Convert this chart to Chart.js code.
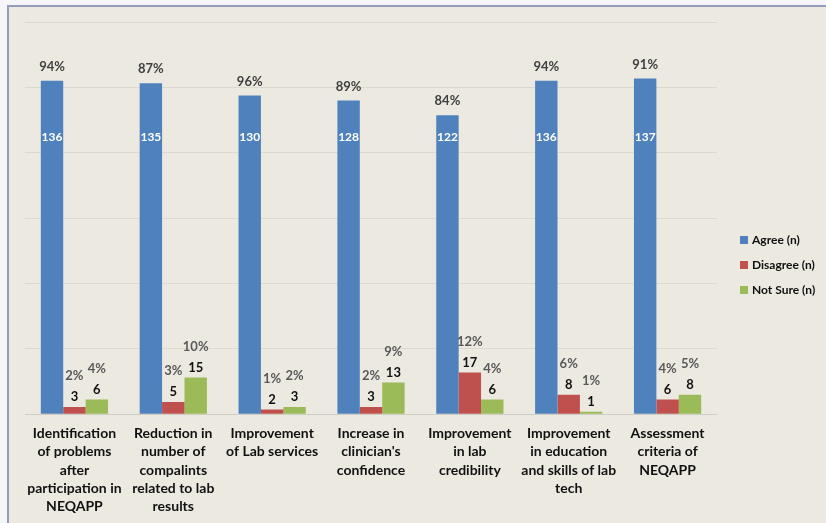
<!DOCTYPE html>
<html>
<head>
<meta charset="utf-8">
<script src="https://cdn.jsdelivr.net/npm/chart.js@4"></script>
<style>
  html, body { margin: 0; padding: 0; background: #f6f6f8; }
  #frame {
    position: absolute; left: 7px; top: 5px; width: 817px; height: 516px;
    border-left: 2px solid #939cbb; border-top: 2px solid #939cbb;
    background: #ece9e1;
  }
  canvas { display: block; }
</style>
</head>
<body>
<div id="frame"><canvas id="chart" width="817" height="516"></canvas></div>
<script>
const categories = [
  ['Identification', 'of problems', 'after', 'participation in', 'NEQAPP'],
  ['Reduction in', 'number of', 'compalints', 'related to lab', 'results'],
  ['Improvement', 'of Lab services'],
  ['Increase in', "clinician's", 'confidence'],
  ['Improvement', 'in lab', 'credibility'],
  ['Improvement', 'in education', 'and skills of lab', 'tech'],
  ['Assessment', 'criteria of', 'NEQAPP'],
];

const agree    = [136, 135, 130, 128, 122, 136, 137];
const disagree = [3, 5, 2, 3, 17, 8, 6];
const notSure  = [6, 15, 3, 13, 6, 1, 8];

const agreePct    = ['94%', '87%', '96%', '89%', '84%', '94%', '91%'];
const disagreePct = ['2%', '3%', '1%', '2%', '12%', '6%', '4%'];
const notSurePct  = ['4%', '10%', '2%', '9%', '4%', '1%', '5%'];

const seriesNames = ['Agree (n)', 'Disagree (n)', 'Not Sure (n)'];
const colors      = ['#4f81bd', '#c0504d', '#9bbb59'];

const FONT = 'Lato, "Liberation Sans", sans-serif';

// value labels: counts + percentages
const labelPlugin = {
  id: 'labels',
  afterDatasetsDraw(chart) {
    const ctx = chart.ctx;
    const y = chart.scales.y;
    const pcts = [agreePct, disagreePct, notSurePct];
    ctx.save();
    ctx.textAlign = 'center';
    ctx.textBaseline = 'middle';
    chart.data.datasets.forEach((ds, di) => {
      chart.getDatasetMeta(di).data.forEach((bar, i) => {
        if (di === 0) {
          ctx.font = 'bold 12px ' + FONT;
          ctx.fillStyle = '#ffffff';
          ctx.fillText(ds.data[i], bar.x, y.getPixelForValue(113));
          ctx.font = 'bold 13px ' + FONT;
          ctx.fillStyle = '#404040';
          ctx.fillText(pcts[di][i], bar.x, bar.y - 14);
        } else {
          ctx.font = 'bold 13px ' + FONT;
          ctx.fillStyle = '#111111';
          ctx.fillText(ds.data[i], bar.x, bar.y - 10);
          ctx.fillStyle = '#595959';
          ctx.fillText(pcts[di][i], bar.x, bar.y - 31);
        }
      });
    });
    ctx.restore();
  }
};

const legendPlugin = {
  id: 'sideLegend',
  afterDraw(chart) {
    const ctx = chart.ctx;
    const area = chart.chartArea;
    ctx.save();
    ctx.font = 'bold 12px ' + FONT;
    ctx.textBaseline = 'middle';
    ctx.textAlign = 'left';
    chart.data.datasets.forEach((ds, i) => {
      const ly = area.top + 218 + i * 25;
      ctx.fillStyle = ds.backgroundColor;
      ctx.fillRect(area.right + 23, ly - 4, 8, 8);
      ctx.fillStyle = '#111111';
      ctx.fillText(ds.label, area.right + 35, ly);
    });
    ctx.restore();
  }
};

new Chart(document.getElementById('chart').getContext('2d'), {
  type: 'bar',
  data: {
    labels: categories,
    datasets: [agree, disagree, notSure].map((d, i) => ({
      label: seriesNames[i],
      data: d,
      backgroundColor: colors[i],
      barPercentage: 1,
      categoryPercentage: 0.68,
    }))
  },
  options: {
    responsive: false,
    animation: false,
    layout: { padding: { left: 16, right: 109, top: 15, bottom: -3 } },
    plugins: {
      legend: { display: false },
      tooltip: { enabled: false },
    },
    scales: {
      x: {
        grid: { display: false, drawTicks: false },
        border: { display: false },
        ticks: {
          color: '#111111',
          font: { family: FONT, size: 14, weight: 'bold', lineHeight: 1.31 },
          padding: 10,
          maxRotation: 0,
          minRotation: 0,
          autoSkip: false,
        },
      },
      y: {
        min: 0,
        max: 160,
        ticks: { display: false, stepSize: 160 / 6 },
        grid: {
          drawTicks: false,
          color: ctx => ctx.tick.value === 0 ? '#cfccc4' : '#dcd9d0',
          lineWidth: 1,
        },
        border: { display: false },
      },
    },
  },
  plugins: [labelPlugin, legendPlugin],
});
</script>
</body>
</html>
